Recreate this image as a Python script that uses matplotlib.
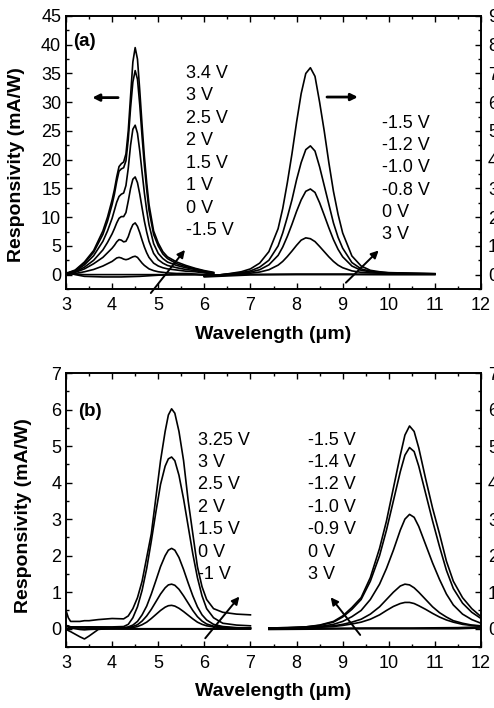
import numpy as np
import matplotlib
matplotlib.use("Agg")
import matplotlib.pyplot as plt
from matplotlib.ticker import MultipleLocator

plt.rcParams['font.family'] = ['Liberation Sans', 'DejaVu Sans']

# ---------------- Panel (a): MWIR band (left axis) ----------------
WL_A_MW = [3.0, 3.2, 3.4, 3.6, 3.8, 3.9, 4.0, 4.05, 4.1, 4.15, 4.2, 4.25, 4.3, 4.35,
           4.4, 4.45, 4.5, 4.55, 4.6, 4.65, 4.7, 4.75, 4.8, 4.9, 5.0, 5.1, 5.2, 5.4,
           5.6, 5.8, 6.0, 6.2]
R_A_34V = [0.2, 0.8, 2.2, 4.2, 7.6, 10.0, 13.0, 14.8, 17.0, 18.8, 19.3, 19.6, 21.0, 25.0,
           31.0, 37.0, 39.5, 37.5, 32.0, 26.0, 20.5, 16.0, 12.2, 7.6, 5.5, 4.0, 3.1, 2.2,
           1.6, 1.1, 0.7, 0.4]
R_A_3V = [0.2, 0.7, 2.0, 3.9, 7.0, 9.3, 12.2, 14.0, 16.2, 18.0, 18.4, 18.6, 19.8, 23.5,
          29.0, 33.5, 35.5, 34.0, 29.5, 24.0, 19.0, 14.8, 11.2, 7.0, 5.0, 3.6, 2.8, 1.9,
          1.4, 1.0, 0.6, 0.3]
R_A_25V = [0.2, 0.6, 1.7, 3.3, 5.8, 7.6, 9.8, 11.2, 12.6, 13.6, 14.0, 14.2, 15.5, 18.5,
           22.5, 25.3, 26.0, 24.6, 21.5, 17.8, 14.2, 11.2, 8.7, 5.4, 3.7, 2.8, 2.2, 1.6,
           1.2, 0.9, 0.5, 0.3]
R_A_2V = [0.1, 0.5, 1.3, 2.5, 4.3, 5.6, 7.1, 8.0, 9.0, 9.8, 10.1, 10.1, 10.8, 12.8,
          15.0, 16.6, 17.0, 16.0, 14.0, 11.6, 9.3, 7.4, 5.8, 3.7, 2.6, 2.0, 1.6, 1.2,
          0.9, 0.7, 0.4, 0.2]
R_A_15V = [0.1, 0.4, 1.0, 1.9, 3.0, 3.8, 4.6, 5.1, 5.7, 6.1, 6.0, 5.7, 5.8, 6.6,
           7.8, 8.7, 9.0, 8.4, 7.3, 6.0, 4.8, 3.8, 3.0, 2.0, 1.5, 1.2, 1.0, 0.8,
           0.6, 0.5, 0.3, 0.1]
R_A_1V = [0.0, 0.2, 0.5, 0.9, 1.5, 1.9, 2.3, 2.6, 2.9, 3.0, 2.9, 2.7, 2.6, 2.7,
          2.9, 3.1, 3.2, 3.0, 2.5, 2.0, 1.6, 1.3, 1.0, 0.7, 0.5, 0.4, 0.3, 0.2,
          0.2, 0.1, 0.0, -0.1]
WL_A_MW_LOW = [3.0, 3.2, 3.4, 3.8, 4.2, 4.6, 5.0, 5.4, 5.8, 6.2]
R_A_0V = [0.3, 0.1, 0.0, 0.0, 0.0, 0.0, 0.0, 0.0, 0.0, -0.1]
R_A_M15V = [0.4, 0.0, -0.3, -0.4, -0.4, -0.3, -0.1, 0.0, 0.0, -0.1]
MW_CURVES_A = [R_A_34V, R_A_3V, R_A_25V, R_A_2V, R_A_15V, R_A_1V]
MW_LABELS_A = ['3.4 V', '3 V', '2.5 V', '2 V', '1.5 V', '1 V', '0 V', '-1.5 V']

# ---------------- Panel (a): LWIR band (right axis) ----------------
WL_A_LW = [6.0, 6.4, 6.8, 7.0, 7.2, 7.4, 7.6, 7.7, 7.8, 7.9, 8.0, 8.1, 8.2, 8.3,
           8.4, 8.5, 8.6, 8.7, 8.8, 8.9, 9.0, 9.2, 9.4, 9.6, 9.8, 10.0, 10.5, 11.0]
R_A_M15V_LW = [-0.05, 0.0, 0.1, 0.2, 0.4, 0.8, 1.6, 2.3, 3.2, 4.2, 5.3, 6.3, 7.0, 7.2,
               6.9, 6.0, 5.0, 3.9, 2.9, 2.1, 1.45, 0.65, 0.3, 0.15, 0.1, 0.07, 0.05, 0.03]
R_A_M12V_LW = [-0.05, 0.0, 0.07, 0.13, 0.26, 0.5, 1.0, 1.45, 2.0, 2.6, 3.3, 3.9, 4.35, 4.48,
               4.3, 3.75, 3.1, 2.45, 1.8, 1.3, 0.92, 0.42, 0.2, 0.12, 0.08, 0.06, 0.04, 0.03]
R_A_M10V_LW = [-0.05, 0.0, 0.05, 0.09, 0.17, 0.34, 0.67, 0.96, 1.33, 1.75, 2.2, 2.6, 2.9, 2.98,
               2.86, 2.5, 2.07, 1.63, 1.22, 0.88, 0.62, 0.3, 0.15, 0.1, 0.07, 0.05, 0.04, 0.03]
R_A_M08V_LW = [-0.05, 0.0, 0.03, 0.05, 0.09, 0.17, 0.33, 0.46, 0.63, 0.82, 1.02, 1.2, 1.28, 1.25,
               1.15, 0.98, 0.8, 0.62, 0.46, 0.33, 0.24, 0.13, 0.08, 0.06, 0.05, 0.04, 0.03, 0.03]
WL_A_LW_LOW = [6.0, 7.0, 8.0, 9.0, 10.0, 11.0]
R_A_0V_LW = [-0.05, 0.01, 0.02, 0.02, 0.01, 0.01]
R_A_3V_LW = [-0.08, -0.01, 0.0, 0.0, 0.0, 0.0]
LW_CURVES_A = [R_A_M15V_LW, R_A_M12V_LW, R_A_M10V_LW, R_A_M08V_LW, R_A_0V_LW, R_A_3V_LW]
LW_LABELS_A = ['-1.5 V', '-1.2 V', '-1.0 V', '-0.8 V', '0 V', '3 V']

# ---------------- Panel (b): MWIR band ----------------
WL_B_MW = [3.0, 3.05, 3.1, 3.3, 3.4, 3.5, 3.7, 4.0, 4.25, 4.35, 4.45, 4.55, 4.65, 4.75,
           4.85, 4.95, 5.05, 5.15, 5.22, 5.29, 5.36, 5.45, 5.55, 5.65, 5.75, 5.85, 5.95,
           6.05, 6.2, 6.4, 6.7, 7.0]
R_B_325V = [0.5, 0.3, 0.2, 0.2, 0.22, 0.22, 0.25, 0.28, 0.27, 0.35, 0.55, 0.85, 1.3, 1.95,
            2.6, 3.6, 4.6, 5.4, 5.85, 6.02, 5.9, 5.4, 4.6, 3.5, 2.6, 1.7, 1.15,
            0.8, 0.55, 0.45, 0.4, 0.38]
R_B_3V = [0.1, 0.05, 0.05, 0.05, 0.05, 0.05, 0.05, 0.05, 0.06, 0.12, 0.3, 0.6, 1.05, 1.65,
          2.4, 3.2, 3.95, 4.45, 4.65, 4.7, 4.6, 4.2, 3.55, 2.8, 2.05, 1.4, 0.9,
          0.55, 0.3, 0.15, 0.1, 0.08]
R_B_25V = [0.05, 0.08, 0.05, 0.04, 0.04, 0.05, 0.04, 0.03, 0.03, 0.05, 0.1, 0.2, 0.38, 0.62,
           0.95, 1.32, 1.7, 2.0, 2.15, 2.2, 2.15, 1.95, 1.62, 1.25, 0.9, 0.6, 0.38,
           0.24, 0.12, 0.06, 0.03, 0.02]
R_B_2V = [0.0, 0.02, 0.04, 0.03, 0.03, 0.03, 0.03, 0.02, 0.02, 0.03, 0.06, 0.11, 0.21, 0.35,
          0.53, 0.74, 0.95, 1.12, 1.2, 1.22, 1.19, 1.08, 0.9, 0.7, 0.5, 0.33, 0.21,
          0.13, 0.07, 0.04, 0.02, 0.02]
R_B_15V = [-0.05, 0.0, 0.02, 0.02, 0.02, 0.01, 0.01, 0.01, 0.01, 0.02, 0.03, 0.06, 0.11, 0.18,
           0.28, 0.39, 0.5, 0.59, 0.63, 0.64, 0.62, 0.56, 0.47, 0.37, 0.27, 0.18, 0.12,
           0.08, 0.05, 0.03, 0.02, 0.02]
R_B_0V = [0.0, -0.05, -0.08, -0.22, -0.28, -0.2, -0.02, 0.02, 0.01, 0.0, 0.0, 0.0, 0.0, 0.0,
          0.0, 0.0, 0.0, 0.0, 0.0, 0.0, 0.0, 0.0, 0.0, 0.0, 0.0, 0.0, 0.0,
          0.0, 0.0, 0.0, 0.0, 0.0]
R_B_M1V = [0.1, 0.06, 0.02, -0.02, -0.03, -0.02, -0.01, -0.01, -0.01, -0.01, -0.01, -0.01, -0.01, -0.01,
           -0.01, -0.01, -0.01, -0.01, -0.01, -0.01, -0.01, -0.01, -0.01, -0.01, -0.01, -0.01, -0.01,
           -0.01, -0.01, -0.01, -0.01, -0.01]
MW_CURVES_B = [R_B_325V, R_B_3V, R_B_25V, R_B_2V, R_B_15V, R_B_0V, R_B_M1V]
MW_LABELS_B = ['3.25 V', '3 V', '2.5 V', '2 V', '1.5 V', '0 V', '-1 V']

# ---------------- Panel (b): LWIR band ----------------
WL_B_LW = [7.4, 7.8, 8.2, 8.5, 8.8, 9.0, 9.2, 9.4, 9.6, 9.8, 9.95, 10.1, 10.25, 10.35,
           10.45, 10.55, 10.65, 10.8, 10.95, 11.1, 11.25, 11.4, 11.6, 11.8, 12.0]
R_B_M15V = [0.02, 0.03, 0.05, 0.1, 0.2, 0.35, 0.58, 0.85, 1.4, 2.2, 2.95, 3.85, 4.75, 5.3,
            5.55, 5.4, 4.95, 4.1, 3.3, 2.6, 1.85, 1.3, 0.85, 0.55, 0.33]
R_B_M14V = [0.02, 0.03, 0.05, 0.09, 0.18, 0.32, 0.53, 0.8, 1.3, 2.0, 2.7, 3.5, 4.3, 4.75,
            4.96, 4.85, 4.45, 3.7, 2.95, 2.25, 1.6, 1.1, 0.7, 0.45, 0.28]
R_B_M12V = [0.02, 0.02, 0.03, 0.06, 0.12, 0.2, 0.33, 0.5, 0.8, 1.22, 1.65, 2.15, 2.7, 3.0,
            3.13, 3.05, 2.8, 2.3, 1.8, 1.35, 0.95, 0.65, 0.4, 0.25, 0.15]
R_B_M10V = [0.01, 0.02, 0.03, 0.05, 0.08, 0.12, 0.18, 0.26, 0.4, 0.6, 0.8, 1.0, 1.17, 1.22,
            1.2, 1.12, 1.0, 0.8, 0.6, 0.44, 0.32, 0.22, 0.15, 0.1, 0.08]
R_B_M09V = [0.01, 0.02, 0.03, 0.04, 0.06, 0.09, 0.13, 0.18, 0.26, 0.38, 0.5, 0.61, 0.69, 0.72,
            0.72, 0.69, 0.63, 0.53, 0.42, 0.32, 0.24, 0.18, 0.12, 0.09, 0.07]
WL_B_LW_LOW = [7.4, 8.5, 9.5, 10.5, 11.5, 12.0]
R_B_0V_LW = [0.0, 0.01, 0.02, 0.02, 0.03, 0.05]
R_B_3V_LW = [-0.02, -0.01, 0.0, 0.0, 0.0, 0.02]
LW_CURVES_B = [R_B_M15V, R_B_M14V, R_B_M12V, R_B_M10V, R_B_M09V]
LW_LABELS_B = ['-1.5 V', '-1.4 V', '-1.2 V', '-1.0 V', '-0.9 V', '0 V', '3 V']

LINE = dict(color='black', lw=1.2)
FS_TICK = 13
FS_TEXT = 13
FS_LABEL = 14
W, H = 494, 708


def style_axes(ax, ax_r, major, minor):
    ax.set_xlim(3, 12)
    ax.xaxis.set_major_locator(MultipleLocator(1))
    ax.xaxis.set_minor_locator(MultipleLocator(0.5))
    ax.yaxis.set_major_locator(MultipleLocator(major))
    ax.yaxis.set_minor_locator(MultipleLocator(minor))
    ax.tick_params(which='both', direction='in', top=True, right=False, labelsize=FS_TICK)
    ax.tick_params(axis='x', which='major', pad=6)
    ax.tick_params(which='major', length=4.5, width=1.0)
    ax.tick_params(which='minor', length=2.5, width=1.0)
    ax_r.yaxis.set_major_locator(MultipleLocator(1))
    ax_r.yaxis.set_minor_locator(MultipleLocator(0.5))
    ax_r.tick_params(which='both', direction='in', labelsize=FS_TICK, pad=5)
    ax_r.tick_params(which='major', length=4.5, width=1.0)
    ax_r.tick_params(which='minor', length=2.5, width=1.0)
    for a in (ax, ax_r):
        for s in a.spines.values():
            s.set_linewidth(1.2)
    ax.set_xlabel('Wavelength (μm)', fontsize=FS_LABEL, fontweight='bold')
    ax.set_ylabel('Responsivity (mA/W)', fontsize=FS_LABEL, fontweight='bold')


def arrow(ax, tail, head, lw=1.4, ms=11):
    ax.annotate('', xy=head, xytext=tail, annotation_clip=False,
                arrowprops=dict(arrowstyle='-|>', color='black', lw=lw,
                                mutation_scale=ms, shrinkA=0, shrinkB=0))


def label_column(ax, labels, x, y0, step):
    for i, t in enumerate(labels):
        ax.text(x, y0 - i * step, t, transform=ax.transAxes, fontsize=FS_TEXT,
                ha='left', va='center')


fig = plt.figure(figsize=(W / 100, H / 100), dpi=100)

# ----- panel (a) -----
ax_a = fig.add_axes([66 / W, 1 - 289 / H, 415 / W, 273 / H])
ax_ar = ax_a.twinx()
for r in MW_CURVES_A:
    ax_a.plot(WL_A_MW, r, **LINE)
ax_a.plot(WL_A_MW_LOW, R_A_0V, **LINE)
ax_a.plot(WL_A_MW_LOW, R_A_M15V, **LINE)
for r in LW_CURVES_A[:4]:
    ax_ar.plot(WL_A_LW, r, **LINE)
ax_ar.plot(WL_A_LW_LOW, R_A_0V_LW, **LINE)
ax_ar.plot(WL_A_LW_LOW, R_A_3V_LW, **LINE)
ax_a.set_ylim(-2.5, 45)
ax_ar.set_ylim(-0.5, 9)
style_axes(ax_a, ax_ar, 5, 2.5)
ax_a.xaxis.set_label_coords(0.5, -0.135)
ax_a.yaxis.set_label_coords(-0.099, 0.454)
ax_a.text(0.017, 0.905, '(a)', transform=ax_a.transAxes, fontsize=13.5,
          fontweight='bold', ha='left', va='center')
label_column(ax_a, MW_LABELS_A, 0.289, 0.791, 0.0825)
label_column(ax_a, LW_LABELS_A, 0.761, 0.607, 0.0815)
arrow(ax_a, (4.13, 30.8), (3.57, 30.8), lw=2.0, ms=10)
arrow(ax_a, (8.66, 30.9), (9.33, 30.9), lw=2.0, ms=10)
arrow(ax_a, (4.84, -3.2), (5.58, 4.3))
arrow(ax_a, (9.07, -1.4), (9.78, 4.2))

# ----- panel (b) -----
ax_b = fig.add_axes([66 / W, 1 - 647 / H, 415 / W, 274 / H])
ax_br = ax_b.twinx()
for r in MW_CURVES_B:
    ax_b.plot(WL_B_MW, r, **LINE)
for r in LW_CURVES_B:
    ax_br.plot(WL_B_LW, r, **LINE)
ax_br.plot(WL_B_LW_LOW, R_B_0V_LW, **LINE)
ax_br.plot(WL_B_LW_LOW, R_B_3V_LW, **LINE)
ax_b.set_ylim(-0.5, 7)
ax_br.set_ylim(-0.5, 7)
style_axes(ax_b, ax_br, 1, 0.5)
ax_b.xaxis.set_label_coords(0.5, -0.131)
ax_b.yaxis.set_label_coords(-0.083, 0.478)
ax_b.text(0.029, 0.861, '(b)', transform=ax_b.transAxes, fontsize=13.5,
          fontweight='bold', ha='left', va='center')
label_column(ax_b, MW_LABELS_B, 0.318, 0.755, 0.0818)
label_column(ax_b, LW_LABELS_B, 0.583, 0.755, 0.0818)
arrow(ax_b, (6.02, -0.26), (6.76, 0.88))
arrow(ax_b, (9.38, -0.17), (8.74, 0.86))

fig.savefig('out.png', dpi=100)
